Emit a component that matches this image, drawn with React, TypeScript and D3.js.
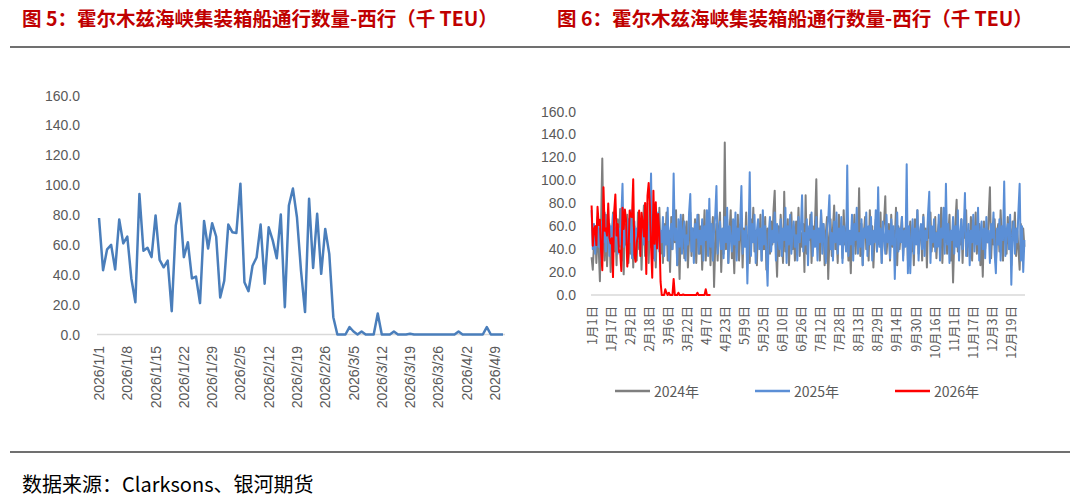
import * as d3 from "d3";

// 图5 / 2026 daily, 1/1 - 4/11 (千 TEU)
const westbound2026 = [
  78, 43, 57, 60, 43.5, 77, 61, 65.6, 37.5, 21.6,
  94, 56, 58, 51.8, 79.7, 50, 45, 49.5, 15.6, 73,
  87.7, 51.8, 61.8, 37.5, 38.8, 21, 76, 57.6, 74.5, 65.6,
  24.8, 36, 73.6, 68.5, 68, 101, 35, 29, 46, 51.5,
  73.6, 34, 71.8, 63, 51, 80.3, 18.3, 86.4, 97.7, 78.5,
  42.8, 15, 90.8, 44.6, 80.8, 40.6, 70.7, 54, 11.6, 0,
  0, 0, 5, 2, 0, 2, 0, 0, 0, 14,
  0, 0, 0, 2, 0, 0, 0, 0.5, 0, 0,
  0, 0, 0, 0, 0, 0, 0, 0, 0, 2,
  0, 0, 0, 0, 0, 0, 5, 0, 0, 0,
  0,
];

const leftTicks = ["2026/1/1", "2026/1/8", "2026/1/15", "2026/1/22", "2026/1/29", "2026/2/5", "2026/2/12",
  "2026/2/19", "2026/2/26", "2026/3/5", "2026/3/12", "2026/3/19", "2026/3/26", "2026/4/2", "2026/4/9"];

// 图6 / day of year
const y2024 = [
  33, 22, 45, 60, 28, 52, 40, 12, 65, 119,
  48, 30, 70, 25, 55, 62, 20, 45, 72, 38,
  58, 26, 66, 42, 75, 30, 50, 18, 62, 44,
  70, 28, 55, 36, 68, 24, 60, 46, 30, 72,
  40, 64, 22, 56, 78, 34, 52, 80, 28, 60,
  42, 70, 32, 58, 24, 66, 48, 76, 36, 54,
  28, 62, 44, 72, 30, 56, 20, 68, 40, 58,
  46, 74, 26, 52, 14, 60, 38, 70, 32, 56,
  64, 24, 50, 72, 34, 58, 42, 66, 28, 54,
  70, 36, 60, 22, 48, 74, 30, 56, 40, 64,
  26, 52, 68, 7, 44, 62, 30, 58, 72, 20,
  50, 36, 133, 40, 66, 28, 56, 74, 32, 48,
  19, 60, 42, 70, 30, 54, 64, 24, 58, 44,
  72, 34, 52, 28, 66, 46, 76, 38, 56, 26,
  62, 48, 70, 30, 54, 40, 68, 22, 58, 50,
  36, 64, 44, 74, 91, 42, 16, 60, 34, 70,
  48, 28, 90, 38, 56, 66, 26, 52, 72, 40,
  58, 30, 64, 46, 76, 34, 54, 42, 62, 20,
  87, 36, 58, 48, 70, 28, 60, 44, 66, 101,
  40, 56, 30, 72, 48, 62, 26, 54, 68, 14,
  50, 66, 34, 58, 78, 40, 52, 28, 70, 46,
  60, 32, 74, 44, 56, 66, 30, 50, 19, 62,
  42, 70, 36, 58, 48, 93, 34, 62, 26, 54,
  68, 40, 56, 30, 74, 46, 60, 24, 52, 66,
  38, 58, 44, 72, 28, 54, 64, 86, 36, 50,
  62, 30, 70, 42, 56, 48, 76, 26, 60, 40,
  54, 68, 34, 58, 46, 72, 30, 50, 64, 38,
  56, 26, 66, 48, 74, 36, 52, 60, 30, 70,
  44, 58, 24, 64, 50, 72, 38, 56, 42, 68,
  32, 54, 62, 40, 76, 28, 58, 46, 66, 36,
  52, 70, 30, 56, 11, 48, 64, 83, 38, 54,
  44, 66, 28, 60, 50, 74, 34, 56, 42, 68,
  30, 58, 48, 72, 36, 54, 62, 26, 50, 16,
  64, 40, 58, 46, 70, 94, 32, 56, 44, 66,
  28, 54, 62, 38, 74, 48, 30, 60, 52, 36,
  68, 44, 58, 26, 64, 50, 72, 34, 56, 40,
  22, 62, 48, 58, 42,
];

const y2025 = [
  74, 40, 62, 36, 55, 68, 42, 58, 30, 64,
  46, 72, 38, 56, 66, 34, 60, 48, 70, 40,
  54, 62, 36, 58, 44, 68, 97, 42, 60, 50,
  38, 66, 46, 74, 32, 56, 64, 40, 58, 48,
  70, 36, 62, 52, 44, 76, 34, 60, 48, 66,
  106, 40, 58, 30, 64, 50, 72, 38, 56, 46,
  68, 34, 60, 44, 76, 30, 54, 62, 40, 106,
  48, 58, 26, 66, 42, 70, 36, 56, 64, 30,
  52, 44, 72, 88, 38, 58, 28, 62, 50, 70,
  36, 56, 44, 66, 30, 60, 48, 74, 34, 84,
  42, 62, 30, 56, 70, 95, 36, 52, 64, 40,
  58, 32, 68, 46, 76, 28, 60, 50, 38, 66,
  44, 72, 30, 58, 48, 64, 95, 36, 56, 42,
  60, 10, 50, 107, 34, 62, 46, 70, 28, 56,
  66, 40, 58, 30, 74, 44, 60, 36, 8, 54,
  68, 38, 56, 46, 72, 30, 62, 50, 40, 66,
  34, 58, 48, 76, 28, 60, 44, 70, 36, 56,
  64, 42, 52, 30, 68, 46, 58, 87, 38, 54,
  44, 66, 26, 60, 50, 72, 34, 56, 42, 68,
  30, 58, 46, 74, 36, 62, 48, 28, 56, 66,
  87, 40, 54, 30, 64, 46, 72, 36, 58, 44,
  68, 28, 60, 50, 38, 113, 34, 56, 44, 70,
  30, 62, 48, 76, 36, 54, 42, 66, 26, 58,
  50, 72, 34, 60, 44, 68, 30, 56, 46, 74,
  38, 94, 42, 58, 28, 64, 50, 36, 70, 46,
  56, 32, 66, 44, 60, 14, 52, 72, 38, 58,
  46, 68, 30, 56, 42, 114, 19, 60, 19, 50,
  66, 36, 58, 44, 74, 30, 54, 62, 40, 68,
  34, 56, 48, 72, 90, 28, 60, 46, 66, 38,
  54, 42, 70, 30, 58, 50, 76, 36, 97, 44,
  62, 28, 56, 48, 68, 36, 60, 42, 74, 30,
  54, 66, 40, 58, 89, 34, 50, 62, 26, 56,
  46, 70, 38, 60, 44, 76, 30, 54, 64, 40,
  58, 32, 68, 46, 56, 28, 62, 50, 72, 36,
  19, 58, 44, 66, 30, 60, 48, 99, 34, 56,
  62, 40, 70, 9, 52, 64, 36, 58, 46, 74,
  97, 30, 60, 20, 48,
];

const rightTicks = ["1月1日", "1月17日", "2月2日", "2月18日", "3月6日", "3月22日", "4月7日", "4月23日",
  "5月9日", "5月25日", "6月10日", "6月26日", "7月12日", "7月28日", "8月13日", "8月29日", "9月14日",
  "9月30日", "10月16日", "11月1日", "11月17日", "12月3日", "12月19日"];

const yTicks = [0, 20, 40, 60, 80, 100, 120, 140, 160];

const seriesNames = ["2024年", "2025年", "2026年"];
const seriesColors = ["#7F7F7F", "#5B8FD6", "#FF0000"];

const titleLeft = "图 5：霍尔木兹海峡集装箱船通行数量-西行（千 TEU）";
const titleRight = "图 6：霍尔木兹海峡集装箱船通行数量-西行（千 TEU）";
const source = "数据来源：Clarksons、银河期货";

const cjk = "'Noto Sans CJK SC', 'Noto Sans', sans-serif";
const axisFont = "'Liberation Sans', 'Noto Sans CJK SC', sans-serif";
const axisColor = "#595959";

export default function App() {
  // left chart scales
  const xL = d3.scalePoint<number>().domain(westbound2026.map((_, i) => i)).range([97, 505]).padding(0.5);
  const yL = d3.scaleLinear().domain([0, 160]).range([334.5, 95.5]);
  const lineL = d3.line<number>().x((_, i) => xL(i)!).y((d) => yL(d));

  // right chart scales
  const days = d3.range(365);
  const xR = d3.scalePoint<number>().domain(days).range([591, 1025]).padding(0.5);
  const yR = d3.scaleLinear().domain([0, 160]).range([295, 111.5]);
  const lineR = d3.line<number>().x((_, i) => xR(i)!).y((d) => yR(d));
  const rightSeries = [y2024, y2025, westbound2026];

  return (
    <svg width={1080} height={502} style={{ position: "absolute", left: 0, top: 0, background: "#fff" }}>
      <rect width={1080} height={502} fill="#fff" />
      {/* titles */}
      <text x={22} y={26} fontFamily={cjk} fontSize={19.5} fontWeight="bold" fill="#C00000">{titleLeft}</text>
      <text x={557} y={26} fontFamily={cjk} fontSize={19.5} fontWeight="bold" fill="#C00000">{titleRight}</text>
      <line x1={10} x2={1070} y1={47} y2={47} stroke="#404040" strokeWidth={1.5} />
      <line x1={10} x2={1070} y1={452} y2={452} stroke="#404040" strokeWidth={1.5} />
      <text x={22} y={492} fontFamily={cjk} fontSize={20} fill="#000">{source}</text>

      {/* left chart */}
      <g>
        {yTicks.map((t) => (
          <text key={t} x={80} y={yL(t)} textAnchor="end" dominantBaseline="central"
            fontFamily={axisFont} fontSize={14} fill={axisColor}>{t.toFixed(1)}</text>
        ))}
        <line x1={97} x2={505} y1={yL(0)} y2={yL(0)} stroke="#D9D9D9" strokeWidth={1.5} />
        {leftTicks.map((t, k) => (
          <text key={t} transform={`translate(${xL(k * 7)}, 346) rotate(-90)`} textAnchor="end"
            dominantBaseline="central" fontFamily={axisFont} fontSize={14} fill={axisColor}>{t}</text>
        ))}
        <path d={lineL(westbound2026)!} fill="none" stroke="#4A7EBB" strokeWidth={2.5} strokeLinejoin="round" />
      </g>

      {/* right chart */}
      <g>
        {yTicks.map((t) => (
          <text key={t} x={576} y={yR(t)} textAnchor="end" dominantBaseline="central"
            fontFamily={axisFont} fontSize={14} fill={axisColor}>{t.toFixed(1)}</text>
        ))}
        <line x1={591} x2={1025} y1={yR(0)} y2={yR(0)} stroke="#D9D9D9" strokeWidth={1.5} />
        {rightTicks.map((t, k) => (
          <text key={t} transform={`translate(${xR(k * 16)}, 306) rotate(-90)`} textAnchor="end"
            dominantBaseline="central" fontFamily={cjk} fontSize={12.5} fill={axisColor}>{t}</text>
        ))}
        {rightSeries.map((s, k) => (
          <path key={k} d={lineR(s)!} fill="none" stroke={seriesColors[k]} strokeWidth={2} strokeLinejoin="round" />
        ))}
        {seriesNames.map((n, k) => (
          <g key={n} transform={`translate(${615 + k * 140}, 391)`}>
            <line x1={0} x2={35} y1={0} y2={0} stroke={seriesColors[k]} strokeWidth={2.5} />
            <text x={39} y={0} dominantBaseline="central" fontFamily={cjk} fontSize={14} fill={axisColor}>{n}</text>
          </g>
        ))}
      </g>
    </svg>
  );
}
